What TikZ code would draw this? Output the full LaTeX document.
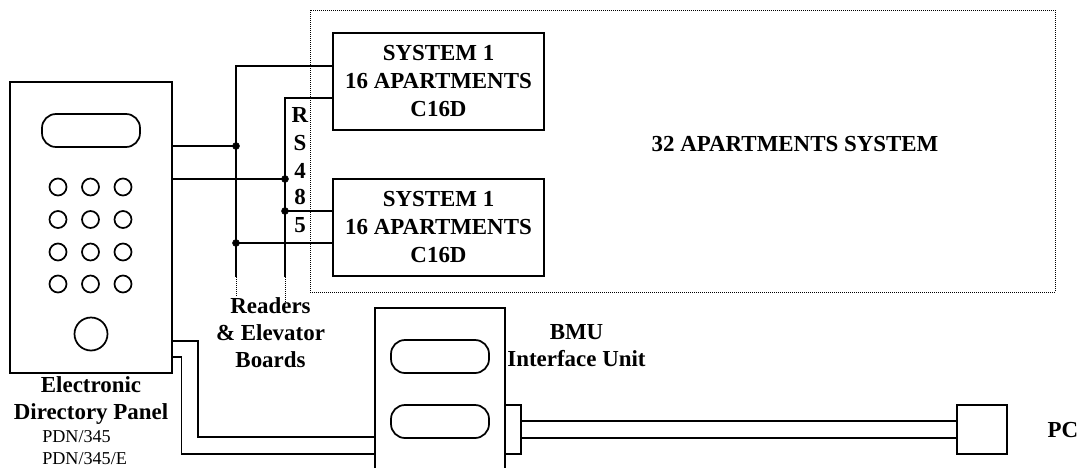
\documentclass[tikz,border=0pt]{standalone}
\usepackage{fontspec}
\setmainfont{Liberation Serif}
\tikzset{
    wire/.style={line width=1.3pt},
    sysbox/.style={draw, line width=1.3pt, minimum width=158.25pt, minimum height=72.75pt, align=center, inner sep=0pt, font=\bfseries\fontsize{17.2}{21}\selectfont},
    slot/.style={draw, line width=1.3pt, rounded corners=10.5pt, minimum width=73.5pt, minimum height=24.75pt, inner sep=0pt},
    lbl/.style={align=center, inner sep=0pt, font=\bfseries\fontsize{17.2}{20.5}\selectfont},
    key/.style={draw, circle, line width=1.3pt, inner sep=0pt, minimum size=12.75pt},
}
\begin{document}
\begin{tikzpicture}[x=0.75pt, y=-0.75pt]
    \useasboundingbox (0,0) rectangle (1081,468);
    % outer system
    \node[draw, densely dotted, line width=0.5pt, minimum width=558.75pt, minimum height=211.5pt, inner sep=0pt] (outer) at (682.5,151) {};
    \node[lbl] (outertext) at (795,144) {32 APARTMENTS SYSTEM};
    % panel
    \node[draw, line width=1.3pt, minimum width=121.5pt, minimum height=218.25pt, inner sep=0pt] (panel) at (91,227.5) {};
    \node[slot] (panelslot) at (91,130.5) {};
    \foreach \r/\y in {1/187, 2/219.5, 3/252, 4/284}
        \foreach \c/\x in {1/58, 2/90.5, 3/123}
            \node[key] (k\r\c) at (\x,\y) {};
    \node[key, minimum size=24.75pt] (button) at (91,334) {};
    \node[lbl] (paneltext) at (91,400.5) {Electronic\\Directory Panel};
    \node[align=left, inner sep=0pt, anchor=west, font=\fontsize{13.6}{16.5}\selectfont] (modeltext) at (42,448) {PDN/345\\PDN/345/E};
    % systems
    \node[sysbox] (sysa) at (438.5,81.5) {SYSTEM 1\\16 APARTMENTS\\C16D};
    \node[sysbox] (sysb) at (438.5,227.5) {SYSTEM 1\\16 APARTMENTS\\C16D};
    % bus
    \coordinate (a1) at (236,146); \coordinate (a2) at (236,243); \coordinate (atop) at (236,66); \coordinate (aend) at (236,277); \coordinate (afree) at (236,296);
    \coordinate (b1) at (285,179); \coordinate (b2) at (285,211); \coordinate (btop) at (285,98); \coordinate (bend) at (285,277); \coordinate (bfree) at (285,303);
    \draw[wire] (panel.east |- a1) -- (a1);
    \draw[wire] (panel.east |- b1) -- (b1);
    \draw[wire] (sysa.west |- atop) -- (atop) -- (aend);
    \draw[wire] (sysa.west |- btop) -- (btop) -- (bend);
    \draw[wire] (b2) -- (sysb.west |- b2);
    \draw[wire] (a2) -- (sysb.west |- a2);
    \draw[densely dotted, line width=0.5pt] (aend) -- (afree);
    \draw[densely dotted, line width=0.5pt] (bend) -- (bfree);
    \foreach \p in {a1,a2,b1,b2} \filldraw (\p) circle (2.6pt);
    \foreach \t/\y in {R/115, S/143, 4/171, 8/197, 5/225}
        \node[lbl] (rs\t) at (300,\y) {\t};
    \node[lbl] (boardtext) at (270.5,332.5) {Readers\\\& Elevator\\Boards};
    % interface unit
    \coordinate (bmul) at (375,468); \coordinate (bmur) at (505,468);
    \coordinate (bmutl) at (375,308); \coordinate (bmutr) at (505,308);
    \draw[wire] (bmul) -- (bmutl) -- (bmutr) -- (bmur);
    \node[slot] (bmuslota) at (440,356.5) {};
    \node[slot] (bmuslotb) at (440,421.5) {};
    \node[lbl] (bmutext) at (576.5,345.5) {BMU\\Interface Unit};
    \coordinate (c1) at (198,341); \coordinate (c2) at (198,437);
    \coordinate (d1) at (181.5,357); \coordinate (d2) at (181.5,454);
    \draw[wire] (panel.east |- c1) -- (c1) -- (c2) -- (bmul |- c2);
    \draw[wire] (panel.east |- d1) -- (d1) -- (d2) -- (bmul |- d2);
    % link to pc
    \node[draw, line width=1.3pt, minimum width=12pt, minimum height=36.75pt, inner sep=0pt] (plug) at (513,429.5) {};
    \node[draw, line width=1.3pt, minimum width=37.5pt, minimum height=36.75pt, inner sep=0pt] (pcbox) at (982,429.5) {};
    \coordinate (e1) at (521,421); \coordinate (e2) at (521,438);
    \draw[wire] (plug.east |- e1) -- (pcbox.west |- e1);
    \draw[wire] (plug.east |- e2) -- (pcbox.west |- e2);
    \node[lbl] (pctext) at (1063,430) {PC};
\end{tikzpicture}
\end{document}
